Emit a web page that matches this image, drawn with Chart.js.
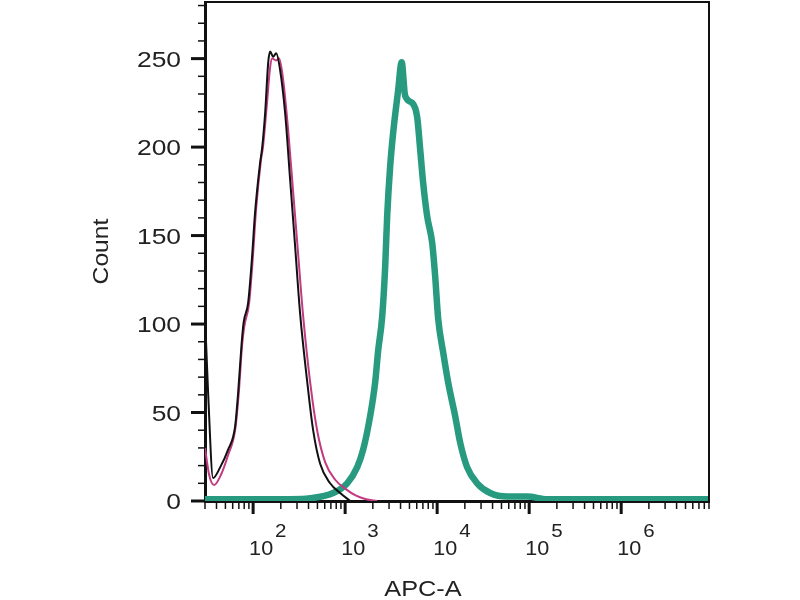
<!DOCTYPE html>
<html>
<head>
<meta charset="utf-8">
<script src="https://cdn.jsdelivr.net/npm/chart.js@4/dist/chart.umd.min.js"></script>
<style>
  html, body { margin: 0; padding: 0; background: #fff; }
  #wrap { width: 800px; height: 600px; position: relative; }
</style>
</head>
<body>
<div id="wrap"><canvas id="histo"></canvas></div>
<script>
// Histogram data (APC-A intensity vs count)
const blackX = [30, 32.5, 36.7, 43.8, 53.5, 63.7, 68.7, 75, 78.9, 88.3, 96.8, 105, 119, 125, 135, 146, 153, 165, 178, 196, 223, 253, 286, 324, 386, 449, 535, 687, 883, 1134];
const blackY = [105, 60, 13, 19, 29, 42, 61, 89, 101, 112, 136, 163, 191, 199, 219, 248, 254, 251, 253, 244, 219, 181, 144, 106, 68, 40, 21, 10, 4.5, 0];

const pinkX = [30, 33.2, 37.7, 44.9, 53.5, 63.7, 69.6, 75.9, 79.8, 90.5, 98.8, 107.8, 122, 128, 140, 153, 161, 178, 192, 212, 240, 272, 308, 349, 417, 496, 606, 780, 1000, 1316, 1688, 2222];
const pinkY = [30, 15, 9, 15, 26, 40, 60, 88, 98, 112, 136, 165, 193, 200, 222, 245, 250, 249, 250, 238, 210, 175, 140, 105, 67, 40, 22, 12, 7, 3, 1, 0];

const tealX = [30, 253, 417, 741, 1052, 1350, 1570, 1871, 2120, 2285, 2525, 2722, 2863, 3085, 3325, 3768, 4114, 4488, 5346, 6063, 6531, 7040, 7785, 8826, 9515, 10260, 11620, 13170, 15700, 17790, 21200, 27200, 37700, 57700, 95100, 157000, 9000000];
const tealY = [1, 1, 1.5, 4.5, 10, 19, 29, 48, 67, 85, 104, 132, 161, 189, 208, 232, 248, 229, 225, 217, 199, 180, 161, 146, 127, 103, 84, 67, 48, 33, 19, 10, 4.5, 2.5, 2.5, 1, 1];

// Axis labels
const yTickLabels = [0, 50, 100, 150, 200, 250];
const xDecades = [2, 3, 4, 5, 6];
const xTitle = 'APC-A';
const yTitle = 'Count';

const X_MIN = 30, X_MAX = 9000000;
const Y_MIN = 0, Y_MAX = 282;

function toPoints(xs, ys) {
    return xs.map((x, i) => ({ x: x, y: ys[i] }));
}

// draw text stretched horizontally like the original export
function stretchText(ctx, text, x, y, align, sx) {
    ctx.save();
    ctx.translate(x, y);
    ctx.scale(sx, 1);
    ctx.textAlign = align;
    ctx.fillText(text, 0, 0);
    ctx.restore();
}

const axisDecor = {
    id: 'axisDecor',
    afterDraw(chart) {
        const ctx = chart.ctx;
        const area = chart.chartArea;
        const xs = chart.scales.x;
        const ys = chart.scales.y;

        ctx.save();
        ctx.strokeStyle = '#111';
        ctx.fillStyle = '#222';

        // top and right frame
        ctx.lineWidth = 2;
        ctx.beginPath();
        ctx.moveTo(area.left, area.top);
        ctx.lineTo(area.right, area.top);
        ctx.lineTo(area.right, area.bottom);
        ctx.stroke();

        // y ticks: minor every 10, major every 50
        for (let v = Y_MIN; v <= Y_MAX; v += 10) {
            const py = ys.getPixelForValue(v);
            const major = v % 50 === 0;
            ctx.lineWidth = major ? 3 : 1.5;
            ctx.beginPath();
            ctx.moveTo(area.left, py);
            ctx.lineTo(area.left - (major ? 14 : 7), py);
            ctx.stroke();
        }

        // x ticks on log scale
        for (let e = 1; e <= 6; e++) {
            for (let m = 1; m <= 9; m++) {
                const v = m * Math.pow(10, e);
                if (v < X_MIN || v > X_MAX) continue;
                const px = xs.getPixelForValue(v);
                const major = m === 1;
                ctx.lineWidth = major ? 3 : 1.5;
                ctx.beginPath();
                ctx.moveTo(px, area.bottom);
                ctx.lineTo(px, area.bottom + (major ? 13 : 8));
                ctx.stroke();
            }
        }

        // y tick labels
        ctx.font = '22px "Liberation Sans", Arial, sans-serif';
        ctx.textBaseline = 'alphabetic';
        yTickLabels.forEach(v => {
            const py = ys.getPixelForValue(v);
            stretchText(ctx, String(v), area.left - 24, py + 8, 'right', 1.2);
        });

        // x tick labels: 10 with raised exponent
        xDecades.forEach(e => {
            const px = xs.getPixelForValue(Math.pow(10, e));
            ctx.font = '20px "Liberation Sans", Arial, sans-serif';
            stretchText(ctx, '10', px - 4, area.bottom + 54, 'left', 1.08);
            ctx.font = '19px "Liberation Sans", Arial, sans-serif';
            stretchText(ctx, String(e), px + 22, area.bottom + 36, 'left', 1.08);
        });

        // axis titles
        ctx.font = '22px "Liberation Sans", Arial, sans-serif';
        stretchText(ctx, xTitle, 423, 596, 'center', 1.15);

        ctx.save();
        ctx.translate(108, (area.top + area.bottom) / 2);
        ctx.rotate(-Math.PI / 2);
        ctx.scale(1.12, 1);
        ctx.textAlign = 'center';
        ctx.fillText(yTitle, 0, 0);
        ctx.restore();

        ctx.restore();
    }
};

const ctx = document.getElementById('histo').getContext('2d');
new Chart(ctx, {
    type: 'line',
    data: {
        datasets: [
            {
                label: 'black',
                data: toPoints(blackX, blackY),
                borderColor: '#111111',
                borderWidth: 2,
                pointRadius: 0,
                cubicInterpolationMode: 'monotone',
                fill: false,
                order: 1
            },
            {
                label: 'pink',
                data: toPoints(pinkX, pinkY),
                borderColor: '#c23a80',
                borderWidth: 2,
                pointRadius: 0,
                cubicInterpolationMode: 'monotone',
                fill: false,
                order: 2
            },
            {
                label: 'teal',
                data: toPoints(tealX, tealY),
                borderColor: '#279a7f',
                borderWidth: 6.5,
                pointRadius: 0,
                cubicInterpolationMode: 'monotone',
                fill: false,
                order: 3
            }
        ]
    },
    options: {
        responsive: true,
        maintainAspectRatio: false,
        animation: false,
        layout: {
            padding: { top: 2, right: 91, left: 0, bottom: 0 }
        },
        plugins: {
            legend: { display: false },
            tooltip: { enabled: false }
        },
        scales: {
            x: {
                type: 'logarithmic',
                min: X_MIN,
                max: X_MAX,
                grid: { display: false },
                ticks: { display: false },
                border: { display: true, color: '#111', width: 3 },
                afterFit: s => { s.height = 99; }
            },
            y: {
                type: 'linear',
                min: Y_MIN,
                max: Y_MAX,
                grid: { display: false },
                ticks: { display: false },
                border: { display: true, color: '#111', width: 3 },
                afterFit: s => { s.width = 205; }
            }
        }
    },
    plugins: [axisDecor]
});
</script>
</body>
</html>
